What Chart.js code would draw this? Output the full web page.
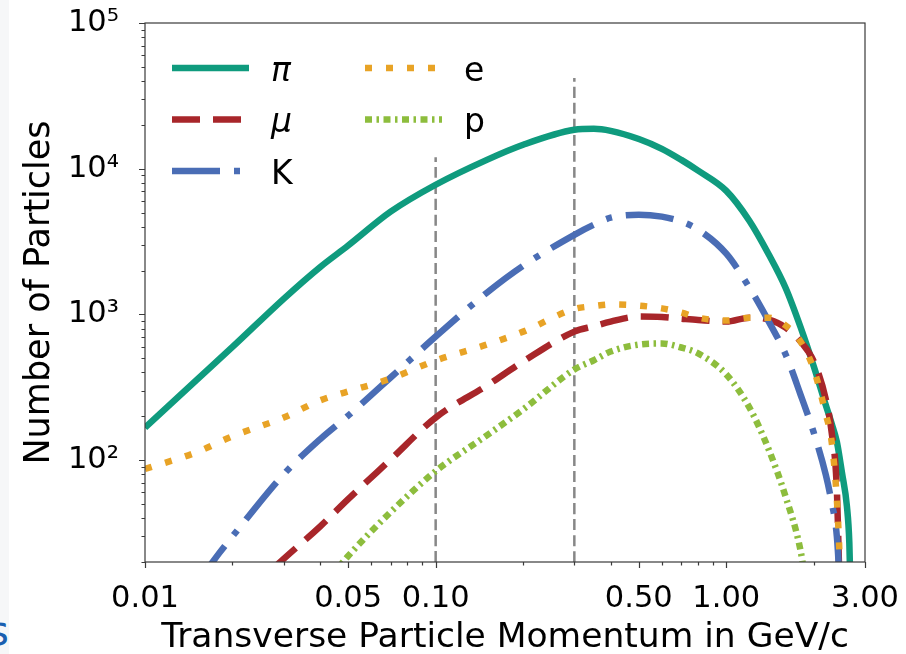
<!DOCTYPE html>
<html>
<head>
<meta charset="utf-8">
<script src="https://cdn.jsdelivr.net/npm/chart.js@4.4.1/dist/chart.umd.min.js"></script>
<style>
  html, body { margin: 0; padding: 0; background: #fff; }
  #wrap { position: relative; width: 906px; height: 654px; overflow: hidden; }
  #edge { position: absolute; left: 0; top: 0; width: 9px; height: 654px; background: #f6f7f8; }
  #stray { position: absolute; left: -12px; top: 611px; font: 40px "DejaVu Sans"; line-height: 1; color: #1a5fb0; }
  #box { position: absolute; left: 0; top: 0; width: 906px; height: 654px; }
</style>
</head>
<body>
<div id="wrap">
  <div id="edge"></div>
  <div id="stray">s</div>
  <div id="box"><canvas id="spectrum"></canvas></div>
</div>
<script>
// transverse momentum grid (GeV/c)
const momentum = [0.01, 0.015, 0.018, 0.02, 0.028, 0.03, 0.04, 0.048, 0.05, 0.07, 0.1, 0.15, 0.2, 0.3, 0.35, 0.4, 0.5, 0.6, 0.7, 0.8, 1.0, 1.2, 1.4, 1.6, 1.8, 1.9, 2.0, 2.2, 2.3, 2.4, 2.45, 2.5, 2.6, 2.65, 2.7];

const pion     = [167, 353, null, 598, null, 1280, 2110, null, 2970, 5070, 7760, 11500, 14600, 18500, 18800, 18200, 16000, 13700, 11500, 9700, 7050, 4400, 2580, 1520, 820, null, 440, 238, 180, 134, 106, 82, 48, 27, 6];
const muon     = [null, null, null, null, 18.5, 21, 35, null, 54, 101, 196, 325, 475, 762, 830, 893, 967, 960, 935, 915, 893, 950, 922, 813, 652, null, 475, 261, 159, 63, 15, 5, null, null, null];
const kaon     = [null, 14, 23, 30, null, 80, 139, null, 202, 369, 705, 1410, 2160, 3520, 4130, 4610, 4840, 4690, 4340, 3820, 2610, 1530, 893, 531, 282, null, 154, 79, 52, 30, 15, 5, null, null, null];
const electron = [87, 113, null, 146, null, 196, 257, null, 296, 363, 483, 621, 762, 1090, 1140, 1170, 1150, 1100, 1030, 950, 907, 950, 950, 840, 652, null, 419, 206, 137, 54, 23, 6, null, null, null];
const proton   = [null, null, null, null, null, null, 14, 20, 22, 44, 84, 148, 223, 419, 485, 556, 621, 631, 593, 540, 387, 230, 118, 56, 24, 12, null, null, null, null, null, null, null, null, null];

// vertical reference lines
const cutMomentum = [0.1, 0.3];
const cutTop = [12000, 42000];

const species = ['π', 'μ', 'K', 'e', 'p'];
const xTicks = [0.01, 0.05, 0.1, 0.5, 1, 3];
const xMinor = [0.02, 0.03, 0.04, 0.06, 0.07, 0.08, 0.09, 0.2, 0.3, 0.4, 0.6, 0.7, 0.8, 0.9, 2];
const yTicks = [100, 1000, 10000, 100000];
const yMin = 20, yMax = 100000;
const xTitle = 'Transverse Particle Momentum in GeV/c';
const yTitle = 'Number of Particles';

const sup = { 2: '²', 3: '³', 4: '⁴', 5: '⁵' };
const family = '"DejaVu Sans", sans-serif';
const axisColor = '#3a3a3a';

function series(values) {
    return momentum.map((x, i) => ({ x: x, y: values[i] }));
}

const curves = [
    { label: species[0], data: series(pion),     borderColor: '#0f9b7e', borderDash: [],              order: 5 },
    { label: species[1], data: series(muon),     borderColor: '#a8262a', borderDash: [28, 13],        order: 4 },
    { label: species[2], data: series(kaon),     borderColor: '#4a6db5', borderDash: [48, 14, 6, 14], order: 3 },
    { label: species[3], data: series(electron), borderColor: '#e8a326', borderDash: [7, 14],         order: 2 },
    { label: species[4], data: series(proton),   borderColor: '#8dbd3d', borderDash: [7, 4.5, 2.5, 4.5], order: 1 }
].map(c => Object.assign(c, { borderWidth: 6.5, spanGaps: true, clip: 0, fill: false }));

const cuts = cutMomentum.map((x, i) => ({
    label: 'cut' + i,
    data: [{ x: x, y: yMin }, { x: x, y: cutTop[i] }],
    borderColor: '#878787', borderWidth: 2.5, borderDash: [11, 5],
    order: 10, clip: 0, fill: false, isCut: true
}));

// spines, minor/major tick marks
const frame = {
    id: 'frame',
    afterDraw(chart) {
        const { ctx, chartArea: a, scales: { x, y } } = chart;
        ctx.save();
        ctx.strokeStyle = axisColor;
        ctx.lineWidth = 1.2;
        ctx.strokeRect(a.left, a.top, a.right - a.left, a.bottom - a.top);
        ctx.beginPath();
        xTicks.forEach(v => { const p = Math.round(x.getPixelForValue(v)) + 0.5; ctx.moveTo(p, a.bottom); ctx.lineTo(p, a.bottom + 6); });
        xMinor.forEach(v => { const p = Math.round(x.getPixelForValue(v)) + 0.5; ctx.moveTo(p, a.bottom); ctx.lineTo(p, a.bottom + 3.5); });
        for (let d = 10; d < yMax; d *= 10) {
            for (let m = 1; m <= 9; m++) {
                const v = m * d;
                if (v < yMin || v > yMax) continue;
                const p = Math.round(y.getPixelForValue(v)) + 0.5;
                const len = m === 1 ? 6 : 3.5;
                ctx.moveTo(a.left, p); ctx.lineTo(a.left - len, p);
            }
        }
        const top = Math.round(y.getPixelForValue(yMax)) + 0.5;
        ctx.moveTo(a.left, top); ctx.lineTo(a.left - 6, top);
        ctx.stroke();
        ctx.restore();
    }
};

// two-column legend inside the axes
const inlineLegend = {
    id: 'inlineLegend',
    afterDraw(chart) {
        const ctx = chart.ctx;
        const colX = [172, 365], rowY = [68, 119.5, 171], len = 77;
        ctx.save();
        chart.data.datasets.filter(d => !d.isCut).forEach((ds, i) => {
            const col = i < 3 ? 0 : 1, row = i < 3 ? i : i - 3;
            const x0 = colX[col], y0 = rowY[row];
            ctx.strokeStyle = ds.borderColor;
            ctx.lineWidth = ds.borderWidth;
            ctx.lineCap = 'butt';
            ctx.setLineDash(ds.borderDash);
            ctx.beginPath(); ctx.moveTo(x0, y0); ctx.lineTo(x0 + len, y0); ctx.stroke();
            ctx.setLineDash([]);
            const greek = ds.label === 'π' || ds.label === 'μ';
            ctx.font = (greek ? 'italic ' : '') + '33px ' + family;
            ctx.fillStyle = '#000';
            ctx.textBaseline = 'alphabetic';
            ctx.fillText(ds.label, x0 + 99, y0 + 12.5);
        });
        ctx.restore();
    }
};

new Chart(document.getElementById('spectrum'), {
    type: 'line',
    data: { datasets: cuts.concat(curves) },
    options: {
        responsive: true, maintainAspectRatio: false, animation: false,
        layout: { padding: { top: 23, right: 41, bottom: 0, left: 0 } },
        plugins: { legend: { display: false }, tooltip: { enabled: false } },
        elements: {
            point: { radius: 0, hoverRadius: 0 },
            line: { cubicInterpolationMode: 'monotone', borderCapStyle: 'butt', borderJoinStyle: 'round' }
        },
        scales: {
            x: {
                type: 'logarithmic', min: 0.01, max: 3,
                grid: { display: false, drawTicks: false }, border: { display: false },
                afterBuildTicks: s => { s.ticks = xTicks.map(v => ({ value: v })); },
                afterFit: s => { s.height = 92; s.paddingLeft = 0; s.paddingRight = 0; },
                ticks: { padding: 19, color: '#000', autoSkip: false, maxRotation: 0,
                         font: { family: family, size: 30.5 }, callback: v => Number(v).toFixed(2) },
                title: { display: true, text: xTitle, color: '#000',
                         font: { family: family, size: 34.5, lineHeight: 1 }, padding: { top: 0, bottom: -1 } }
            },
            y: {
                type: 'logarithmic', min: yMin, max: yMax,
                grid: { display: false, drawTicks: false }, border: { display: false },
                afterBuildTicks: s => { s.ticks = yTicks.map(v => ({ value: v })); },
                afterFit: s => { s.width = 145; s.paddingTop = 0; s.paddingBottom = 0; },
                ticks: { padding: 26, color: '#000', autoSkip: false,
                         font: { family: family, size: 30.5 },
                         callback: v => '10' + sup[Math.round(Math.log10(v))] },
                title: { display: true, text: yTitle, color: '#000',
                         font: { family: family, size: 35, lineHeight: 1.2 }, padding: { top: 19, bottom: 0 } }
            }
        }
    },
    plugins: [frame, inlineLegend]
});
</script>
</body>
</html>
